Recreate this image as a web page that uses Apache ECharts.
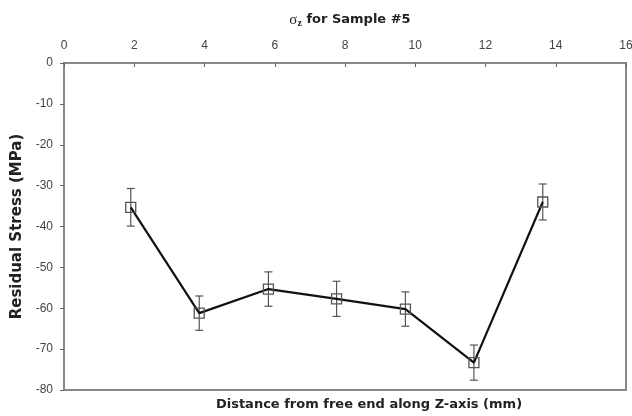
<!DOCTYPE html>
<html><head><meta charset="utf-8">
<script src="https://cdn.jsdelivr.net/npm/echarts@6/dist/echarts.min.js"></script>
<style>html,body{margin:0;padding:0;background:#fff}#c{width:632px;height:416px}</style>
</head><body><div id="c"></div>
<script>
const distances = [1.9, 3.85, 5.82, 7.76, 9.72, 11.67, 13.63];
const stress = [-35.3, -61.2, -55.3, -57.7, -60.2, -73.3, -34.0];
const errors = [4.6, 4.2, 4.2, 4.3, 4.2, 4.3, 4.4];
const xTicks = [0, 2, 4, 6, 8, 10, 12, 14, 16];
const yTicks = [0, -10, -20, -30, -40, -50, -60, -70, -80];

const chart = echarts.init(document.getElementById('c'), null, {renderer: 'canvas'});
const lineData = distances.map((d, i) => [d, stress[i]]);
const errData = distances.map((d, i) => [d, stress[i] - errors[i], stress[i] + errors[i]]);
const font = 'Liberation Sans, Arial, sans-serif';
const boldFont = 'DejaVu Sans, Verdana, sans-serif';

chart.setOption({
  animation: false,
  backgroundColor: '#fff',
  title: {
    text: '{s|σ}{sub|z}{t| for Sample #5}',
    left: 345, top: 7, textAlign: 'center',
    textStyle: {
      rich: {
        s: {fontFamily: 'Liberation Serif, serif', fontSize: 15, color: '#222', fontWeight: 'normal'},
        sub: {fontFamily: 'Liberation Serif, serif', fontSize: 10, color: '#222', verticalAlign: 'bottom', padding: [6, 0, 0, 0]},
        t: {fontFamily: boldFont, fontSize: 13, fontWeight: 'bold', color: '#222'}
      }
    }
  },
  graphic: [{
    type: 'text', x: 369, y: 405,
    style: {text: 'Distance from free end along Z-axis (mm)', font: 'bold 13px ' + boldFont, fill: '#222', textAlign: 'center', textVerticalAlign: 'middle'}
  }, {
    type: 'rect', shape: {x: 64, y: 63, width: 562, height: 327},
    style: {fill: 'none', stroke: '#888', lineWidth: 2}, silent: true, z: 0
  }],
  grid: {left: 64, right: 6, top: 63, bottom: 26, containLabel: false, outerBoundsMode: 'none'},
  xAxis: {
    type: 'value', position: 'top', min: 0, max: 16, interval: 2,
    axisLine: {show: true, lineStyle: {color: '#888', width: 2}},
    axisTick: {show: true, inside: true, length: 4, lineStyle: {color: '#666', width: 1}},
    axisLabel: {color: '#444', fontFamily: font, fontSize: 12, margin: 11,
      formatter: v => xTicks.includes(v) ? String(v) : ''},
    splitLine: {show: false}
  },
  yAxis: {
    type: 'value', min: -80, max: 0, interval: 10,
    name: 'Residual Stress (MPa)', nameLocation: 'middle', nameGap: 36, nameRotate: 90,
    nameTextStyle: {fontFamily: boldFont, fontWeight: 'bold', fontSize: 15, color: '#222'},
    axisLine: {show: true, lineStyle: {color: '#888', width: 2}},
    axisTick: {show: true, length: 4, lineStyle: {color: '#666', width: 1}},
    axisLabel: {color: '#444', fontFamily: font, fontSize: 12, margin: 11,
      formatter: v => yTicks.includes(v) ? String(v) : ''},
    splitLine: {show: false}
  },
  series: [{
    type: 'custom',
    data: errData,
    z: 3,
    renderItem: function (params, api) {
      const x = api.value(0);
      const lo = api.coord([x, api.value(1)]);
      const hi = api.coord([x, api.value(2)]);
      const w = 4;
      const st = {stroke: '#555', lineWidth: 1.2};
      return {type: 'group', children: [
        {type: 'line', shape: {x1: lo[0], y1: lo[1], x2: hi[0], y2: hi[1]}, style: st},
        {type: 'line', shape: {x1: lo[0] - w, y1: lo[1], x2: lo[0] + w, y2: lo[1]}, style: st},
        {type: 'line', shape: {x1: hi[0] - w, y1: hi[1], x2: hi[0] + w, y2: hi[1]}, style: st}
      ]};
    },
    encode: {x: 0, y: [1, 2]}
  }, {
    type: 'line',
    data: lineData,
    z: 4,
    lineStyle: {color: '#111', width: 2.2},
    symbol: 'rect', symbolSize: 10,
    itemStyle: {color: 'rgba(255,255,255,0)', borderColor: '#555', borderWidth: 1.3}
  }]
});
</script></body></html>
